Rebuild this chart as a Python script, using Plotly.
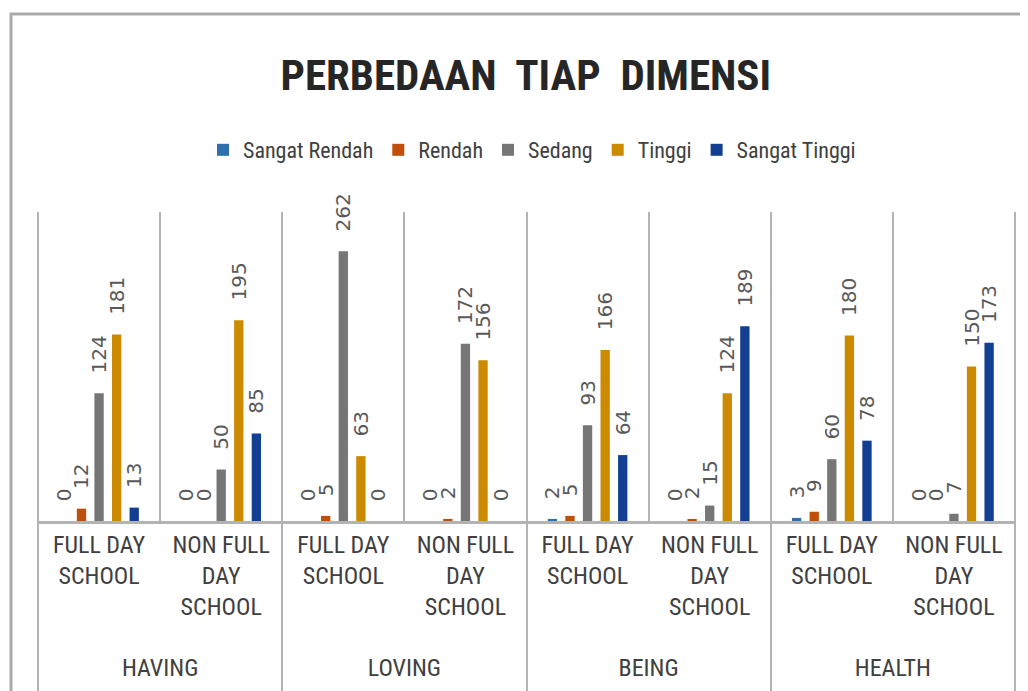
import plotly.graph_objects as go

dimensions = ["HAVING<br> ", "LOVING<br> ", "BEING<br> ", "HEALTH<br> "]
schools = ["FULL DAY<br>SCHOOL<br> <br> ", "NON FULL<br>DAY<br>SCHOOL<br> "]
series_names = ["Sangat Rendah", "Rendah", "Sedang", "Tinggi", "Sangat Tinggi"]
colors = ["#2E6FB0", "#C04F0A", "#767676", "#CC8A00", "#123F91"]

# order: HAVING-FDS, HAVING-NFDS, LOVING-FDS, LOVING-NFDS, BEING-FDS, BEING-NFDS, HEALTH-FDS, HEALTH-NFDS
sangat_rendah = [0, 0, 0, 0, 2, 0, 3, 0]
rendah = [12, 0, 5, 2, 5, 2, 9, 0]
sedang = [124, 50, 262, 172, 93, 15, 60, 7]
tinggi = [181, 195, 63, 156, 166, 124, 180, 150]
sangat_tinggi = [13, 85, 0, 0, 64, 189, 78, 173]
series_values = [sangat_rendah, rendah, sedang, tinggi, sangat_tinggi]

x_outer = [d for d in dimensions for _ in schools]
x_inner = [s for _ in dimensions for s in schools]

LABEL_FONT = "Liberation Sans Narrow, Roboto Condensed, Open Sans, sans-serif"
GRID = "#b3b3b3"

# page body has an 8px margin; work in reference pixels and shift
OFF = 8
W, H = 1028 - OFF, 691 - OFF
L = 38 - OFF
T = 212 - OFF
R = W - (1015 - OFF)
B = H - (521 - OFF)
pw, ph = W - L - R, H - T - B

def px_x(px):
    return (px - OFF - L) / pw

def px_y(py):
    return (H - B - (py - OFF)) / ph

fig = go.Figure()
for name, vals, col in zip(series_names, series_values, colors):
    fig.add_trace(go.Bar(
        name=name,
        x=[x_outer, x_inner],
        y=vals,
        marker=dict(color=col, line=dict(width=0)),
        texttemplate="\u00a0\u00a0\u2009%{y}",
        textposition="outside",
        textangle=-90,
        constraintext="none",
        cliponaxis=False,
        textfont=dict(family="DejaVu Sans", size=20, color="#595959"),
        hoverinfo="skip",
    ))

fig.update_layout(
    width=W, height=H,
    margin=dict(l=L, r=R, t=T, b=B, autoexpand=False),
    paper_bgcolor="white", plot_bgcolor="white",
    barmode="group", bargap=0.28, bargroupgap=0.47,
    title=dict(text="<b>PERBEDAAN  TIAP  DIMENSI</b>", x=px_x(534), xanchor="center",
               y=1 - (75 - OFF) / H, yanchor="middle", yref="container",
               font=dict(family=LABEL_FONT, size=43, color="#262626")),
    legend=dict(orientation="h", x=px_x(532), xanchor="center", y=px_y(150), yanchor="middle",
                font=dict(family=LABEL_FONT, size=22, color="#404040"),
                itemwidth=30, tracegroupgap=0, traceorder="normal"),
    showlegend=True,
    xaxis=dict(
        type="multicategory", automargin=False,
        showline=True, linecolor=GRID, linewidth=3,
        showgrid=True, gridcolor=GRID, gridwidth=2,
        tickson="boundaries", ticks="outside", ticklen=22, tickcolor="rgba(0,0,0,0)",
        showdividers=True, dividercolor=GRID, dividerwidth=2,
        tickfont=dict(family=LABEL_FONT, size=24, color="#404040"),
        fixedrange=True,
    ),
    yaxis=dict(range=[0, 300], showgrid=False, zeroline=False, showticklabels=False,
               showline=False, fixedrange=True, automargin=False),
    shapes=[
        dict(type="rect", xref="paper", yref="paper",
             x0=px_x(11), x1=px_x(1045), y0=px_y(705), y1=px_y(14),
             line=dict(color="#ababab", width=3), fillcolor="rgba(0,0,0,0)", layer="below"),
        dict(type="line", xref="paper", yref="paper",
             x0=1, x1=1, y0=px_y(700), y1=1,
             line=dict(color=GRID, width=2)),
        dict(type="line", xref="paper", yref="paper",
             x0=0, x1=0, y0=px_y(700), y1=1,
             line=dict(color=GRID, width=2)),
    ],
)

fig.write_html("out.html")
